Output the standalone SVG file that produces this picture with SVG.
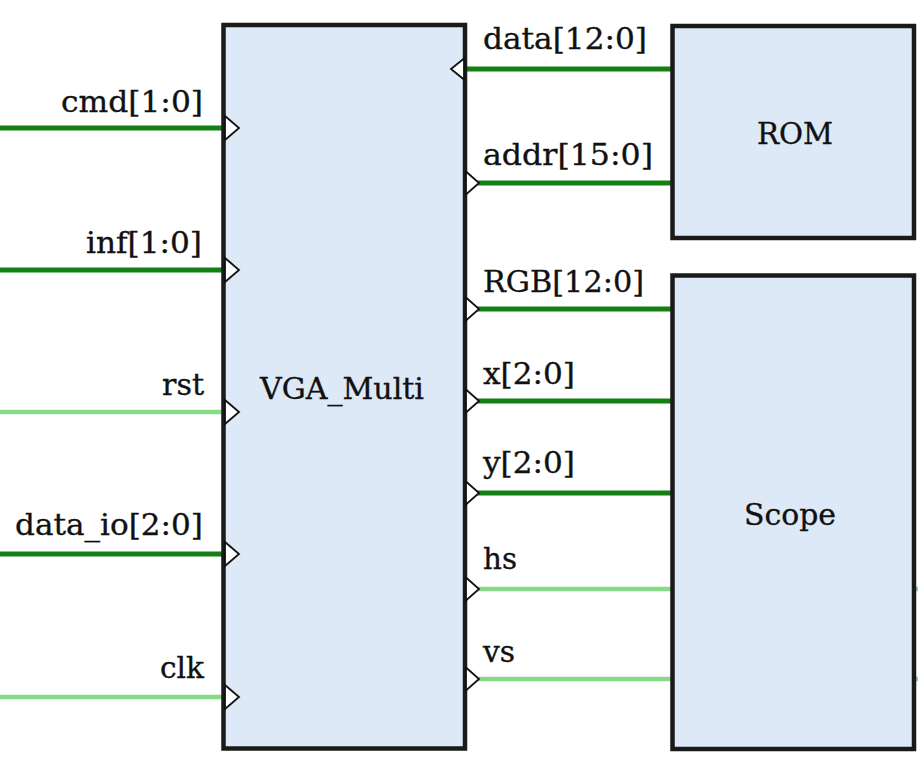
<svg xmlns="http://www.w3.org/2000/svg" width="918" height="777" viewBox="0 0 918 777">
<style>
.box{fill:#dde9f7;stroke:#1a1a1a;stroke-width:4.5}
.bus{stroke:#128012;stroke-width:5;fill:none}
.sig{stroke:#88da88;stroke-width:4.5;fill:none}
.port{fill:#ffffff;stroke:#111111;stroke-width:1.8;stroke-linejoin:miter}
text{font-family:"DejaVu Serif","Liberation Serif",serif;font-size:30.5px;fill:#111111;stroke:#111111;stroke-width:0.35}
</style>
<rect width="918" height="777" fill="#ffffff"/>
<g id="connectors">
<line class="bus" x1="0" y1="128" x2="223" y2="128"/>
<line class="bus" x1="0" y1="270" x2="223" y2="270"/>
<line class="sig" x1="0" y1="412" x2="223" y2="412"/>
<line class="bus" x1="0" y1="554" x2="223" y2="554"/>
<line class="sig" x1="0" y1="697" x2="223" y2="697"/>
<line class="bus" x1="465" y1="69" x2="672" y2="69"/>
<line class="bus" x1="465" y1="183" x2="672" y2="183"/>
<line class="bus" x1="465" y1="309" x2="672" y2="309"/>
<line class="bus" x1="465" y1="401" x2="672" y2="401"/>
<line class="bus" x1="465" y1="493" x2="672" y2="493"/>
<line class="sig" x1="465" y1="589" x2="672" y2="589"/>
<line class="sig" x1="465" y1="679" x2="672" y2="679"/>
<line class="sig" x1="914" y1="589" x2="918" y2="589"/>
<line class="sig" x1="914" y1="679" x2="918" y2="679"/>
<text x="61" y="112" textLength="142" lengthAdjust="spacingAndGlyphs">cmd[1:0]</text>
<text x="86" y="253" textLength="116" lengthAdjust="spacingAndGlyphs">inf[1:0]</text>
<text x="162" y="395" textLength="42" lengthAdjust="spacingAndGlyphs">rst</text>
<text x="15" y="535" textLength="188" lengthAdjust="spacingAndGlyphs">data_io[2:0]</text>
<text x="160" y="678" textLength="44" lengthAdjust="spacingAndGlyphs">clk</text>
<text x="483" y="49" textLength="164" lengthAdjust="spacingAndGlyphs">data[12:0]</text>
<text x="483" y="165" textLength="170" lengthAdjust="spacingAndGlyphs">addr[15:0]</text>
<text x="483" y="292" textLength="161" lengthAdjust="spacingAndGlyphs">RGB[12:0]</text>
<text x="483" y="384" textLength="92" lengthAdjust="spacingAndGlyphs">x[2:0]</text>
<text x="483" y="473" textLength="92" lengthAdjust="spacingAndGlyphs">y[2:0]</text>
<text x="483" y="569" textLength="34" lengthAdjust="spacingAndGlyphs">hs</text>
<text x="483" y="662" textLength="32" lengthAdjust="spacingAndGlyphs">vs</text>
</g>
<g id="VGA_Multi">
<rect class="box" x="223.5" y="25" width="241.5" height="723.5"/>
<text x="260" y="399" textLength="164" lengthAdjust="spacingAndGlyphs">VGA_Multi</text>
<polygon class="port" points="225,116 239,128 225,140"/>
<polygon class="port" points="225,258 239,270 225,282"/>
<polygon class="port" points="225,400 239,412 225,424"/>
<polygon class="port" points="225,542 239,554 225,566"/>
<polygon class="port" points="225,685 239,697 225,709"/>
<polygon class="port" points="464,58.5 451,69 464,79.5"/>
<polygon class="port" points="466,171.5 479,183 466,194.5"/>
<polygon class="port" points="466,297.5 479,309 466,320.5"/>
<polygon class="port" points="466,389.5 479,401 466,412.5"/>
<polygon class="port" points="466,481.5 479,493 466,504.5"/>
<polygon class="port" points="466,577.5 479,589 466,600.5"/>
<polygon class="port" points="466,667.5 479,679 466,690.5"/>
</g>
<g id="ROM">
<rect class="box" x="672.5" y="26" width="241.5" height="212"/>
<text x="757" y="144" textLength="76" lengthAdjust="spacingAndGlyphs">ROM</text>
</g>
<g id="Scope">
<rect class="box" x="672.5" y="275.5" width="241.5" height="473.5"/>
<text x="744" y="525" textLength="92" lengthAdjust="spacingAndGlyphs">Scope</text>
</g>
</svg>
